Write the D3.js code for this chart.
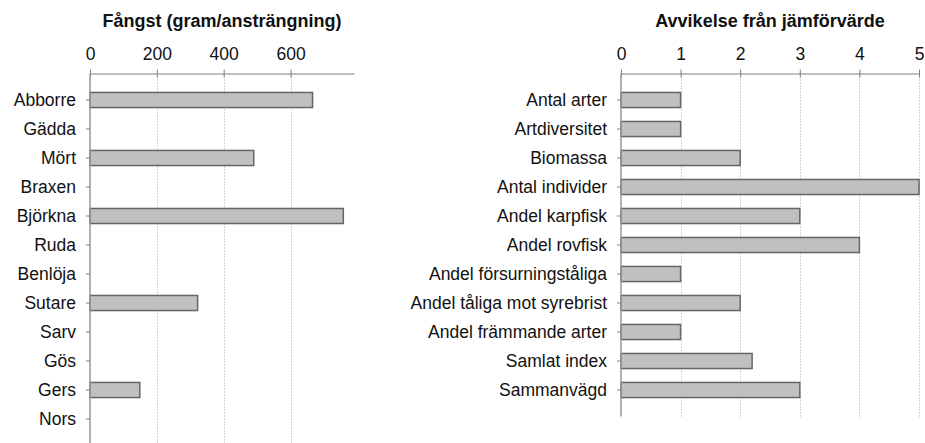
<!DOCTYPE html>
<html>
<head>
<meta charset="utf-8">
<script src="https://cdn.jsdelivr.net/npm/d3@7"></script>
<style>
  body { margin: 0; background: #fff; }
  svg { display: block; font-family: "Liberation Sans", Arial, sans-serif; }
  .bar { fill: #c0c0c0; stroke: #666; stroke-width: 1.5; }
  .grid line { stroke: #aaa; stroke-dasharray: 1,2; }
  .axis path, .axis line { stroke: #808080; }
  .axis text { fill: #111; font-size: 17.5px; }
  .title { font-size: 18px; font-weight: bold; fill: #111; }
</style>
</head>
<body>
<script>
// Vänster diagram: fångst per art
var arter = ["Abborre", "Gädda", "Mört", "Braxen", "Björkna", "Ruda", "Benlöja",
             "Sutare", "Sarv", "Gös", "Gers", "Nors"];
var fangst = [666, 0, 490, 0, 758, 0, 0, 322, 0, 0, 149, 0];
var fangstTicks = [0, 200, 400, 600];
var fangstMax = 790;

// Höger diagram: avvikelse från jämförvärde
var index = ["Antal arter", "Artdiversitet", "Biomassa", "Antal individer",
             "Andel karpfisk", "Andel rovfisk", "Andel försurningståliga",
             "Andel tåliga mot syrebrist", "Andel främmande arter",
             "Samlat index", "Sammanvägd"];
var avvikelse = [1, 1, 2, 5, 3, 4, 1, 2, 1, 2.2, 3];
var avvikelseTicks = [0, 1, 2, 3, 4, 5];
var avvikelseMax = 5;

var width = 925, height = 443;
var plotTop = 73.5, step = 29, pad = 12;

var svg = d3.select("body").append("svg")
    .attr("width", width)
    .attr("height", height);

// ritar ett liggande stapeldiagram
function chart(opt) {
    var n = opt.cats.length;
    var bottom = plotTop + pad * 2 + step * n;

    var x = d3.scaleLinear()
        .domain([0, opt.max])
        .range([opt.left, opt.right]);

    var y = d3.scaleBand()
        .domain(opt.cats)
        .range([plotTop + pad, plotTop + pad + step * n])
        .paddingInner(0.48)
        .paddingOuter(0.24);

    var data = opt.cats.map(function(c, i) { return { cat: c, value: opt.values[i] }; });

    var g = svg.append("g");

    // prickade stödlinjer
    g.append("g")
        .attr("class", "grid")
        .selectAll("line")
        .data(opt.ticks.filter(function(t) { return t > 0; }))
        .enter().append("line")
        .attr("x1", function(d) { return Math.round(x(d)) + 0.5; })
        .attr("x2", function(d) { return Math.round(x(d)) + 0.5; })
        .attr("y1", plotTop)
        .attr("y2", bottom);

    // staplar
    g.selectAll(".bar")
        .data(data.filter(function(d) { return d.value > 0; }))
        .enter().append("rect")
        .attr("class", "bar")
        .attr("x", x(0))
        .attr("y", function(d) { return y(d.cat); })
        .attr("width", function(d) { return x(d.value) - x(0); })
        .attr("height", y.bandwidth());

    // x-axel överst
    var xAxis = g.append("g")
        .attr("class", "axis")
        .attr("transform", "translate(0," + plotTop + ")")
        .call(d3.axisTop(x).tickValues(opt.ticks).tickFormat(d3.format("d"))
            .tickSizeInner(4).tickSizeOuter(0).tickPadding(10));
    xAxis.selectAll(".tick line").attr("y2", -4).attr("y1", 4);

    // y-axel med kategorier
    var yAxis = g.append("g")
        .attr("class", "axis")
        .attr("transform", "translate(" + x(0) + ",0)")
        .call(d3.axisLeft(y).tickSize(4).tickSizeOuter(0).tickPadding(10));
    yAxis.select(".domain")
        .attr("d", "M0," + plotTop + "V" + bottom)
        .style("stroke-width", 1.5)
        .style("stroke", "#999");

    // rubrik
    svg.append("text")
        .attr("class", "title")
        .attr("x", (opt.left + opt.right) / 2)
        .attr("y", 27)
        .attr("text-anchor", "middle")
        .text(opt.title);
}

chart({
    cats: arter, values: fangst, ticks: fangstTicks, max: fangstMax,
    left: 90, right: 354, title: "Fångst (gram/ansträngning)"
});

chart({
    cats: index, values: avvikelse, ticks: avvikelseTicks, max: avvikelseMax,
    left: 621, right: 919, title: "Avvikelse från jämförvärde"
});
</script>
</body>
</html>
